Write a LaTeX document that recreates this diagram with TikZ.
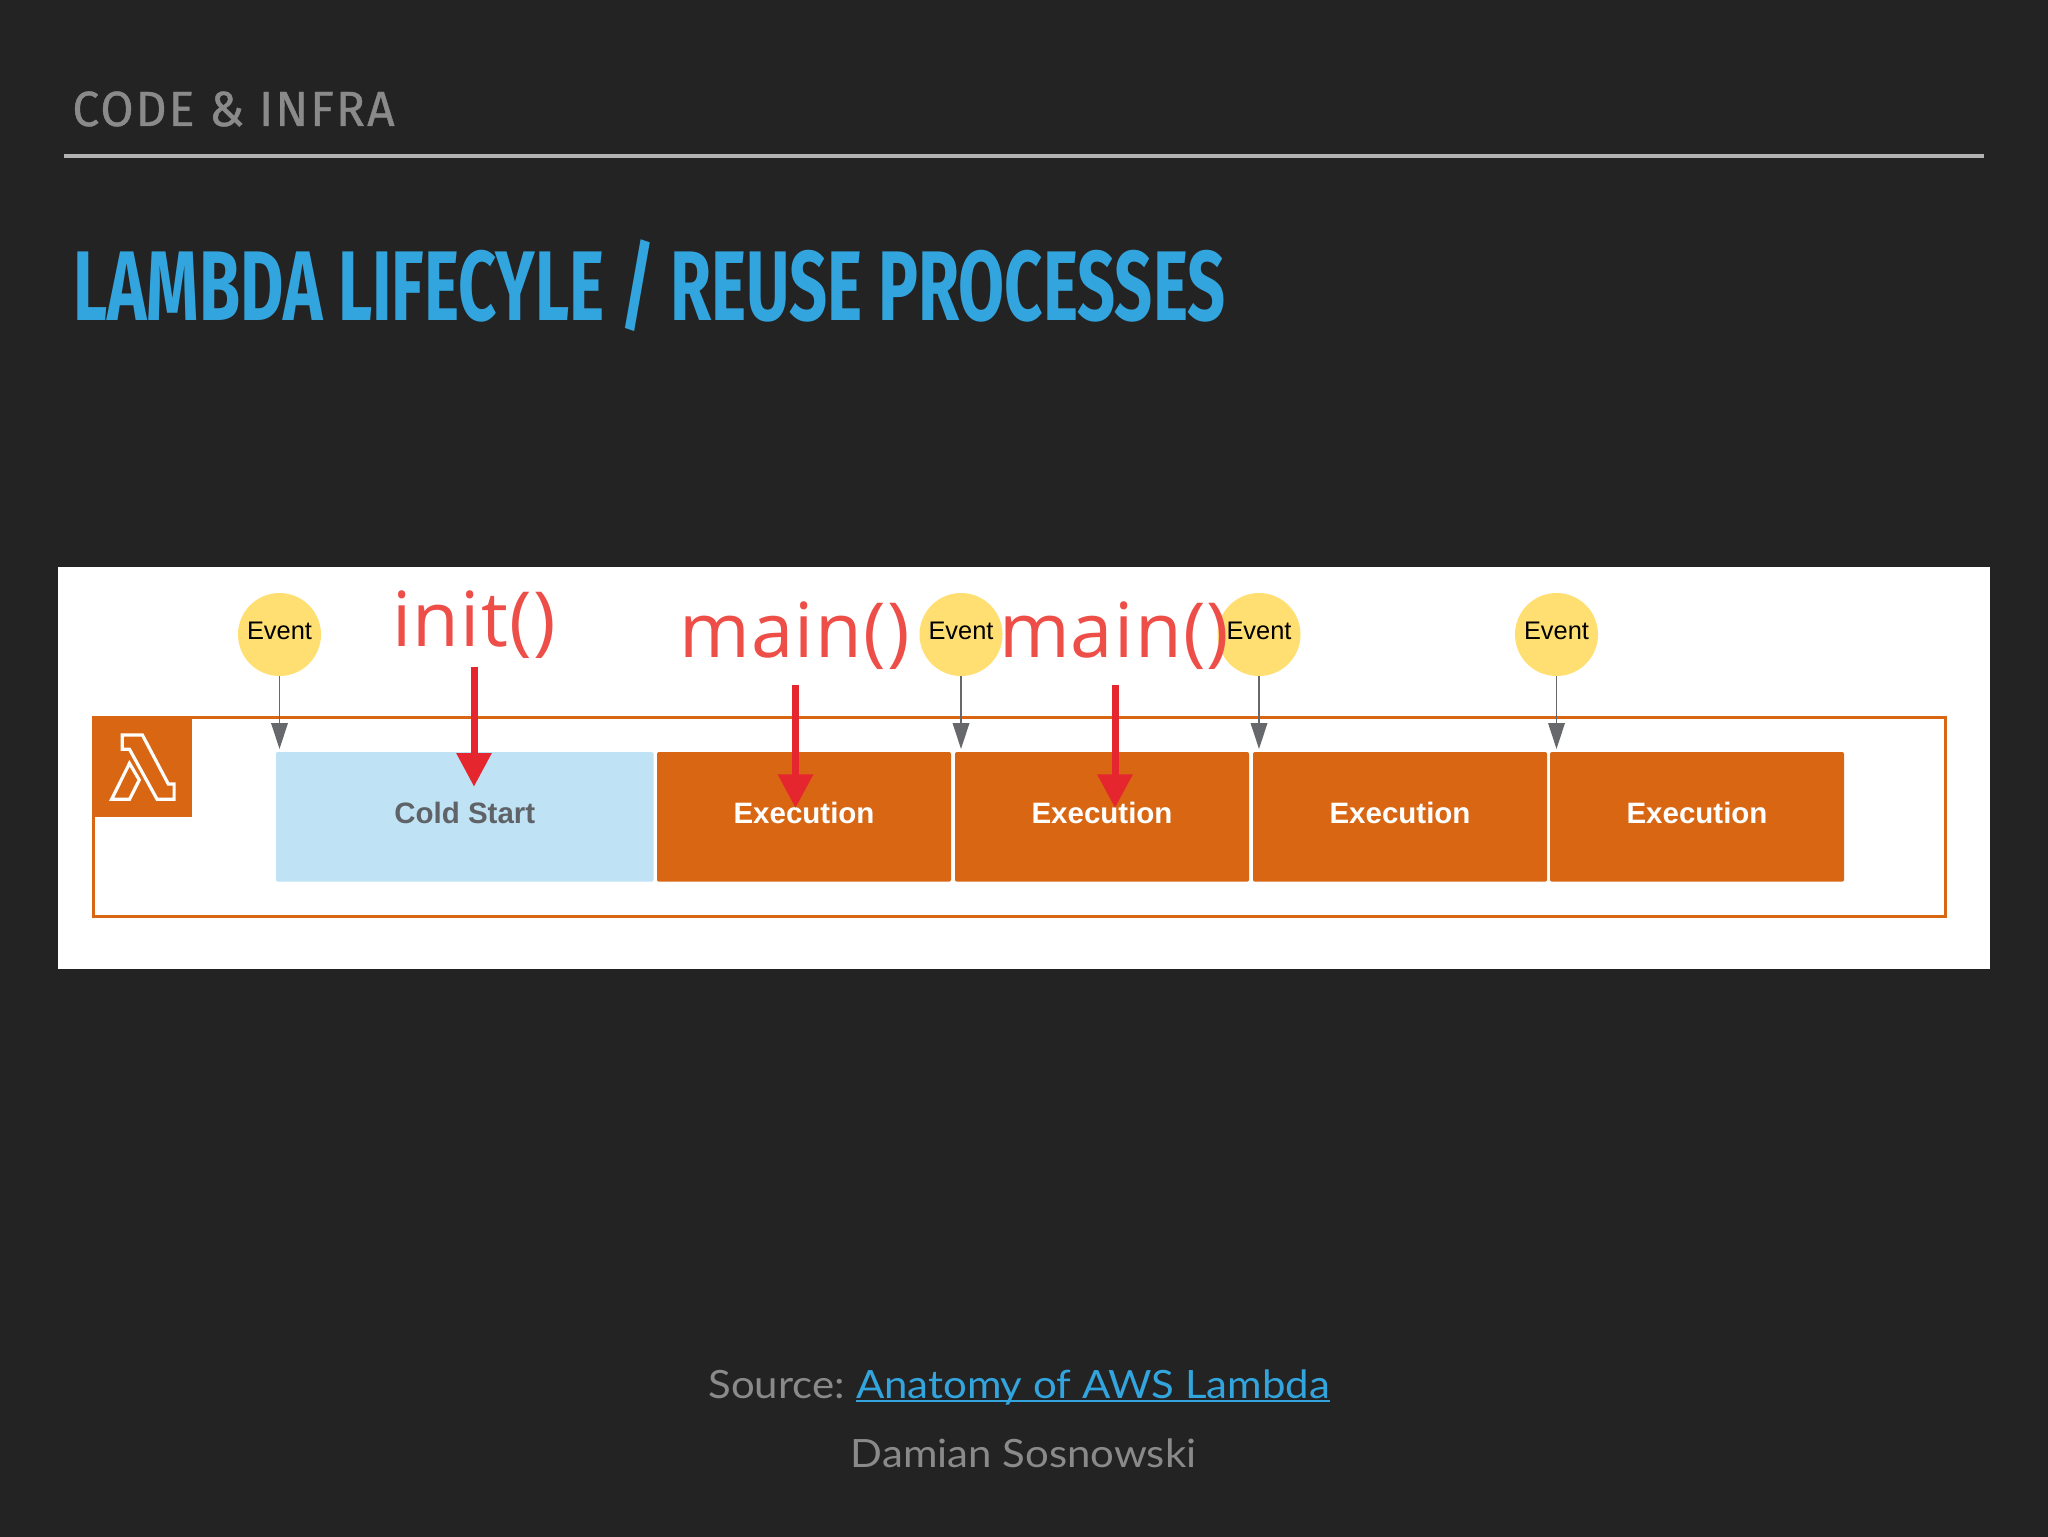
\documentclass[tikz,border=0pt]{standalone}
\usepackage{fontspec}
\setmainfont{Liberation Sans}
\newfontfamily\headfont{Fira Sans}[FakeStretch=0.97,LetterSpace=4.4,FakeBold=0.8]
\newfontfamily\titlefont{Fira Sans}[FakeStretch=0.673]
\newfontfamily\callfont{Open Sans}[LetterSpace=1.7]
\newfontfamily\footfont{Lato}[FakeStretch=1.075]
\usetikzlibrary{arrows.meta}

\definecolor{slidebg}{HTML}{232323}
\definecolor{slidegray}{HTML}{8A8A8A}
\definecolor{slideblue}{HTML}{33A5DE}
\definecolor{awsorange}{HTML}{D86613}
\definecolor{coldblue}{HTML}{BFE3F5}
\definecolor{coldtext}{HTML}{5F6368}
\definecolor{eventyellow}{HTML}{FFDF71}
\definecolor{callred}{HTML}{EE4E48}
\definecolor{arrowred}{HTML}{E5262F}
\definecolor{arrowgray}{HTML}{66686B}

\tikzset{
	phase/.style={rectangle, inner sep=0pt, rounded corners=1pt, text height=35.6pt, text depth=29.25pt,
		font=\fontsize{14.75}{15}\bfseries},
	cold/.style={phase, fill=coldblue, text=coldtext, minimum width=188.8pt},
	exec/.style={phase, fill=awsorange, text=white, minimum width=147pt},
	event/.style={circle, fill=eventyellow, inner sep=0pt, minimum size=41.5pt, text=black,
		text height=9.3pt, text depth=4.5pt, font=\fontsize{12.7}{13}\selectfont},
	call/.style={anchor=base west, inner sep=0pt, text=callred, font=\callfont\fontsize{38}{40}\selectfont},
	eventarrow/.style={draw=arrowgray, line width=0.75pt, -{Triangle[length=13pt,width=8.3pt]}, fill=arrowgray},
	callarrow/.style={draw=arrowred, line width=3.5pt, -{Triangle[length=16.8pt,width=16.8pt]}, fill=arrowred},
	foot/.style={anchor=base west, inner sep=0pt, font=\footfont\fontsize{19.5}{20}\selectfont}
}

\begin{document}
\begin{tikzpicture}[x=0.5pt,y=-0.5pt]

	\useasboundingbox (0,0) rectangle (2048,1536);
	\fill[slidebg] (-8,-8) rectangle (2056,1544);

	%slide heading
	\node[anchor=base west, inner sep=0pt, text=slidegray, font=\headfont\fontsize{24.7}{25}\selectfont] (section) at (72,126){CODE \& INFRA};
	\coordinate (ruleleft) at (64,156);
	\coordinate (ruleright) at (1984,156);
	\draw[line width=2pt, color=black!30!white] (ruleleft) -- (ruleright);
	\node[anchor=base west, inner sep=0pt, text=slideblue, font=\titlefont\fontsize{49.5}{50}\bfseries] (title) at (73,320){LAMBDA LIFECYLE / REUSE PROCESSES};

	%white panel and lambda frame
	\fill[white] (58,567) rectangle (1990,969);
	\draw[awsorange, line width=1.5pt] (93,717.5) rectangle (1945,916.5);
	\fill[awsorange] (92,716) rectangle (192,817);

	%lambda icon
	\draw[white, line width=1.6pt, line join=miter] (122.3,735) -- (142.4,735) -- (168.3,784) -- (174.1,784) -- (174.1,799.3) -- (157.1,799.3) -- (129.5,749.3) -- (122.3,749.3) -- cycle;
	\draw[white, line width=1.6pt, line join=miter] (111.6,799.3) -- (129.5,763.3) -- (139.3,780) -- (129.5,799.3) -- cycle;

	%lifecycle phases
	\node[cold] (start) at (464.8,816.85){Cold Start};
	\node[exec] (exec1) at (804,816.85){Execution};
	\node[exec] (exec2) at (1102,816.85){Execution};
	\node[exec] (exec3) at (1400,816.85){Execution};
	\node[exec] (exec4) at (1697,816.85){Execution};

	%events
	\node[event] (ev1) at (279.5,634.5){Event};
	\node[event] (ev2) at (961,634.5){Event};
	\node[event] (ev3) at (1259,634.5){Event};
	\node[event] (ev4) at (1556.5,634.5){Event};

	\coordinate (tip1) at (279.5,749);
	\coordinate (tip2) at (961,749);
	\coordinate (tip3) at (1259,749);
	\coordinate (tip4) at (1556.5,749);
	\draw[eventarrow] (ev1) -- (tip1);
	\draw[eventarrow] (ev2) -- (tip2);
	\draw[eventarrow] (ev3) -- (tip3);
	\draw[eventarrow] (ev4) -- (tip4);

	%handler calls
	\node[call] (init) at (392,646){init()};
	\node[call] (main1) at (679,657){main()};
	\node[call] (main2) at (998.6,657){main()};

	\coordinate (initfrom) at (474,666.7);
	\coordinate (initto) at (474,786.7);
	\coordinate (main1from) at (795.5,685);
	\coordinate (main1to) at (795.5,808);
	\coordinate (main2from) at (1115,685);
	\coordinate (main2to) at (1115,808);
	\draw[callarrow] (initfrom) -- (initto);
	\draw[callarrow] (main1from) -- (main1to);
	\draw[callarrow] (main2from) -- (main2to);

	%source line
	\node[foot, text=slidegray] (source) at (708,1398){Source:};
	\node[foot, text=slideblue] (link) at (855.6,1398){Anatomy of AWS Lambda};
	\node[foot, text=slidegray] (author) at (850.5,1467.7){Damian Sosnowski};
	\draw[slideblue, line width=1pt] ([yshift=-1.6pt]link.base west) -- ([yshift=-1.6pt]link.base east);

\end{tikzpicture}
\end{document}
